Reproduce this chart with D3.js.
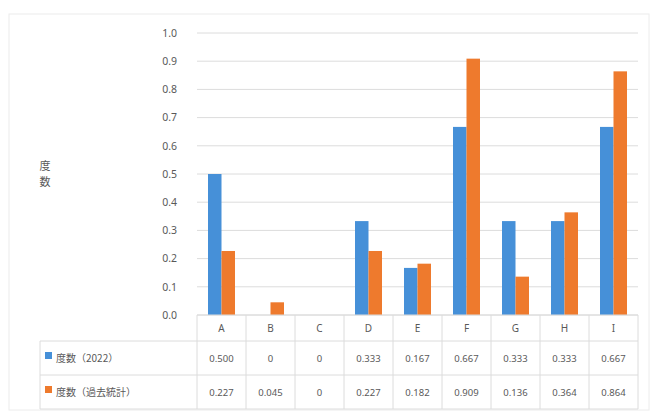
<!DOCTYPE html>
<html>
<head>
<meta charset="utf-8">
<script src="https://cdn.jsdelivr.net/npm/d3@7/dist/d3.min.js"></script>
<style>
  html, body { margin: 0; padding: 0; background: #fff; }
  svg { display: block; font-family: "Noto Sans CJK JP", "Noto Sans", sans-serif; }
</style>
</head>
<body>
<svg id="chart" width="657" height="412"></svg>
<script>
// Categories and series
const categories = ["A", "B", "C", "D", "E", "F", "G", "H", "I"];
const seriesNames = ["度数（2022）", "度数（過去統計）"];
const values2022 = [0.500, 0, 0, 0.333, 0.167, 0.667, 0.333, 0.333, 0.667];
const valuesPast = [0.227, 0.045, 0, 0.227, 0.182, 0.909, 0.136, 0.364, 0.864];
const labels2022 = ["0.500", "0", "0", "0.333", "0.167", "0.667", "0.333", "0.333", "0.667"];
const labelsPast = ["0.227", "0.045", "0", "0.227", "0.182", "0.909", "0.136", "0.364", "0.864"];
const yTicks = [0, 0.1, 0.2, 0.3, 0.4, 0.5, 0.6, 0.7, 0.8, 0.9, 1.0];
const yTitle = "度数";

const colors = ["#4690d8", "#ee7a2d"];
const textColor = "#595959";
const gridColor = "#dcdcdc";

const svg = d3.select("#chart");

const plotLeft = 197, plotRight = 638, plotTop = 33, plotBottom = 315;
const tableLeft = 40;
const rowLines = [315, 341, 375, 409];

// Outer chart frame
svg.append("rect")
  .attr("x", 9).attr("y", 14).attr("width", 640).attr("height", 396)
  .attr("fill", "none").attr("stroke", "#ececec");

const x = d3.scaleBand().domain(categories).range([plotLeft, plotRight]).padding(0);
const xs = d3.scaleBand().domain([0, 1]).range([0, x.bandwidth()]).paddingInner(0).paddingOuter(0.815);
const y = d3.scaleLinear().domain([0, 1]).range([plotBottom, plotTop]);

// Gridlines
svg.append("g").selectAll("line").data(yTicks).join("line")
  .attr("x1", plotLeft).attr("x2", plotRight)
  .attr("y1", d => y(d)).attr("y2", d => y(d))
  .attr("stroke", gridColor).attr("stroke-width", 1);

// Y axis tick labels
const yAxis = d3.axisLeft(y).tickValues(yTicks).tickFormat(d3.format(".1f")).tickSize(0).tickPadding(0);
const yg = svg.append("g").attr("transform", `translate(177,0)`).call(yAxis);
yg.select(".domain").remove();
yg.selectAll("text").attr("fill", textColor).attr("font-size", 10.5).attr("font-family", "'Noto Sans', sans-serif");

// Y axis title, one character per line
svg.append("g").selectAll("text").data(Array.from(yTitle)).join("text")
  .attr("x", 45)
  .attr("y", (d, i) => 170 + i * 16)
  .attr("fill", textColor).attr("font-size", 11)
  .attr("text-anchor", "middle")
  .text(d => d);

// Bars
const seriesData = [values2022, valuesPast];
seriesData.forEach((vals, si) => {
  svg.append("g").selectAll("rect").data(categories).join("rect")
    .attr("x", (c) => x(c) + xs(si))
    .attr("width", xs.bandwidth())
    .attr("y", (c, i) => y(vals[i]))
    .attr("height", (c, i) => y(0) - y(vals[i]))
    .attr("fill", colors[si]);
});

// Data table
const tbl = svg.append("g");
// horizontal lines
tbl.selectAll("line.h").data(rowLines).join("line")
  .attr("class", "h")
  .attr("x1", (d, i) => i === 0 ? plotLeft : tableLeft)
  .attr("x2", plotRight)
  .attr("y1", d => d).attr("y2", d => d)
  .attr("stroke", gridColor);
// vertical lines
const colEdges = categories.map(c => x(c)).concat([plotRight]);
tbl.selectAll("line.v").data(colEdges).join("line")
  .attr("class", "v")
  .attr("x1", d => d).attr("x2", d => d)
  .attr("y1", plotBottom).attr("y2", rowLines[3])
  .attr("stroke", gridColor);
tbl.append("line")
  .attr("x1", tableLeft).attr("x2", tableLeft)
  .attr("y1", rowLines[1]).attr("y2", rowLines[3])
  .attr("stroke", gridColor);

// header letters
tbl.selectAll("text.hdr").data(categories).join("text")
  .attr("class", "hdr")
  .attr("x", c => x(c) + x.bandwidth() / 2)
  .attr("y", (rowLines[0] + rowLines[1]) / 2 + 4)
  .attr("text-anchor", "middle")
  .attr("fill", textColor).attr("font-size", 10)
  .attr("font-family", "'Noto Sans', sans-serif")
  .text(c => c);

// value rows with legend keys
const rowLabels = [labels2022, labelsPast];
rowLabels.forEach((labs, si) => {
  const cy = (rowLines[si + 1] + rowLines[si + 2]) / 2;
  tbl.append("rect")
    .attr("x", 45).attr("y", cy - 6).attr("width", 7).attr("height", 7)
    .attr("fill", colors[si]);
  tbl.append("text")
    .attr("x", 56).attr("y", cy + 4)
    .attr("fill", textColor).attr("font-size", 10)
    .text(seriesNames[si]);
  tbl.selectAll(null).data(categories).join("text")
    .attr("x", c => x(c) + x.bandwidth() / 2)
    .attr("y", cy + 4)
    .attr("text-anchor", "middle")
    .attr("fill", textColor).attr("font-size", 9.5)
    .attr("font-family", "'Noto Sans', sans-serif")
    .text((c, i) => labs[i]);
});
</script>
</body>
</html>
